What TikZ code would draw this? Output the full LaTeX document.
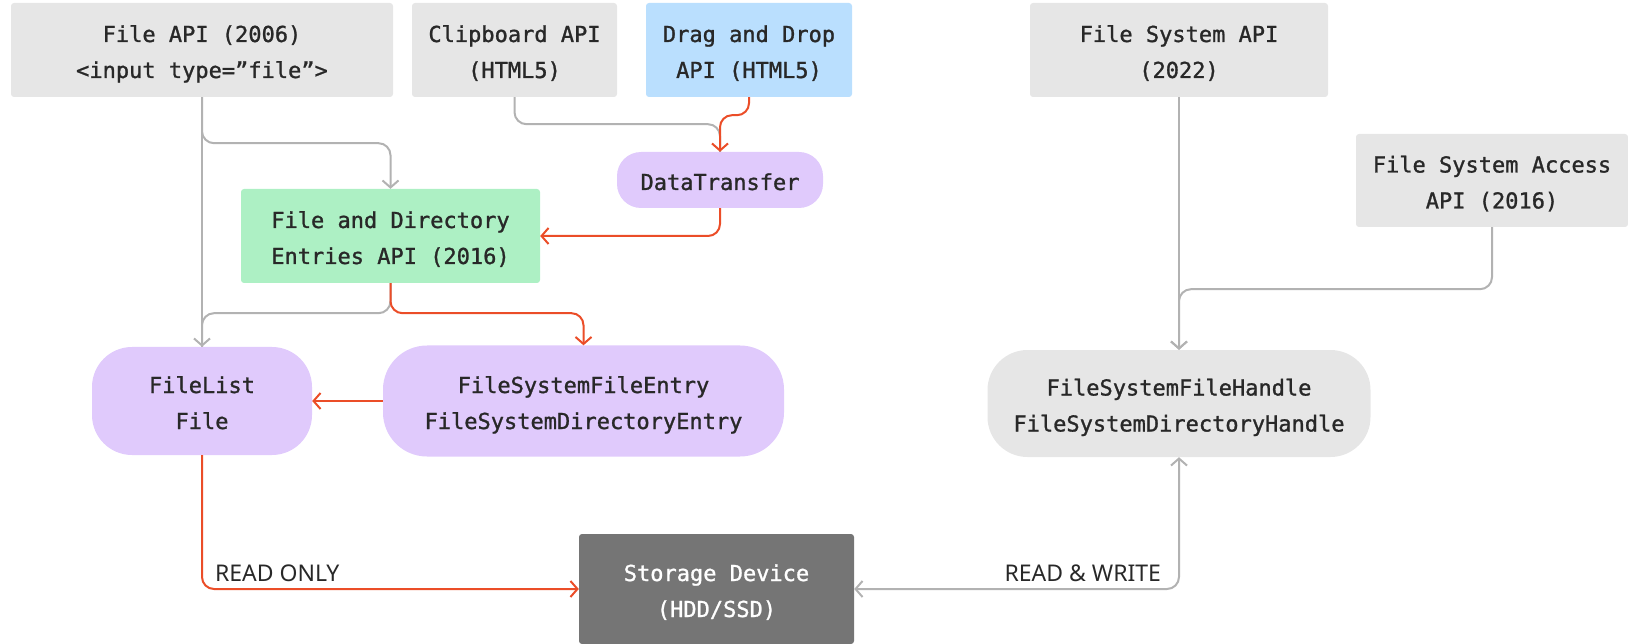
\documentclass[tikz,border=0pt]{standalone}
\usepackage{fontspec}
\usepackage{xcolor}
\usepackage{tikz}
\usetikzlibrary{arrows.meta, positioning, calc}
\newfontfamily\codefont[FakeBold=1.2]{DejaVu Sans Mono}
\newfontfamily\labelfont{Noto Sans}
\definecolor{boxgray}{RGB}{230,230,230}
\definecolor{lilac}{RGB}{224,202,252}
\definecolor{mint}{RGB}{173,240,196}
\definecolor{sky}{RGB}{186,223,254}
\definecolor{disk}{RGB}{117,117,117}
\definecolor{inkdark}{RGB}{40,40,40}
\definecolor{linered}{RGB}{235,77,40}
\definecolor{linegray}{RGB}{178,178,178}
\tikzstyle{api} = [rectangle, fill=boxgray, text=inkdark, align=center, rounded corners=3pt, minimum height=94pt, inner sep=0pt, font=\codefont\fontsize{22}{36}\selectfont, text height=61pt, text depth=5pt]
\tikzstyle{iface} = [api, fill=lilac, rounded corners=40pt]
\tikzstyle{device} = [api, fill=disk, text=white, minimum height=110pt]
\tikzstyle{flow} = [draw, line width=2pt, rounded corners=12pt]
\tikzstyle{redarrow} = [flow, linered, -{Straight Barb[length=7pt, width=16pt]}]
\tikzstyle{grayarrow} = [flow, linegray, -{Straight Barb[length=7pt, width=16pt]}]
\tikzstyle{grayline} = [flow, linegray]
\tikzstyle{access} = [text=inkdark, inner sep=0pt, font=\labelfont\fontsize{23}{28}\selectfont]

\begin{document}
\begin{tikzpicture}[x=1pt, y=-1pt]
    \useasboundingbox (0,0) rectangle (1628,644);

    % sources
    \node (fileapi) [api, minimum width=382pt] at (202,50) {File API (2006)\\<input type=”file”>};
    \node (clipboard) [api, minimum width=205pt] at (514.5,50) {Clipboard API\\(HTML5)};
    \node (dragdrop) [api, fill=sky, minimum width=206pt] at (749,50) {Drag and Drop\\API (HTML5)};
    \node (fsapi) [api, minimum width=298pt] at (1179,50) {File System API\\(2022)};
    \node (fsaccess) [api, minimum width=272pt, minimum height=93pt] at (1492,180.5) {File System Access\\API (2016)};
    \node (datatransfer) [iface, minimum width=206pt, minimum height=56pt, rounded corners=24pt, text height=25pt] at (720,180) {DataTransfer};
    \node (entries) [api, fill=mint, minimum width=299pt] at (390.5,236) {File and Directory\\Entries API (2016)};

    % interfaces
    \node (filelist) [iface, minimum width=220pt, minimum height=108pt] at (202,401) {FileList\\File};
    \node (fsentry) [iface, minimum width=401pt, minimum height=111pt, rounded corners=44pt] at (583.5,401) {FileSystemFileEntry\\FileSystemDirectoryEntry};
    \node (fshandle) [iface, fill=boxgray, minimum width=383pt, minimum height=107pt] at (1179,403.5) {FileSystemFileHandle\\FileSystemDirectoryHandle};
    \node (storage) [device, minimum width=275pt] at (716.5,589) {Storage Device\\(HDD/SSD)};

    % connectors
    \draw [grayarrow] (fileapi.south) -- (filelist.north);
    \draw [grayarrow] (fileapi.south) -- ++(0,46) -| (entries.north);
    \draw [grayline] (clipboard.south) -- ++(0,27) -| (datatransfer.north);
    \draw [redarrow] (dragdrop.south) -- ++(0,18) -| (datatransfer.north);
    \draw [redarrow] (datatransfer.south) |- (entries.east);
    \draw [grayline] (entries.south) -- ++(0,30) -| (filelist.north);
    \draw [redarrow] (entries.south) -- ++(0,30) -| (fsentry.north);
    \draw [redarrow] (fsentry.west) -- (filelist.east);
    \draw [grayarrow] (fsapi.south) -- (fshandle.north);
    \draw [grayarrow] (fsaccess.south) -- ++(0,62) -| (fshandle.north);

    % storage access
    \draw [redarrow] (filelist.south) |- (storage.west)
        node [access, pos=0.5, anchor=base west, xshift=12pt, yshift=8pt] {READ ONLY};
    \draw [grayarrow, {Straight Barb[length=7pt, width=16pt]}-{Straight Barb[length=7pt, width=16pt]}] (storage.east) -| (fshandle.south)
        node [access, pos=0.5, anchor=base east, xshift=-17pt, yshift=8pt] {READ \& WRITE};
\end{tikzpicture}
\end{document}
